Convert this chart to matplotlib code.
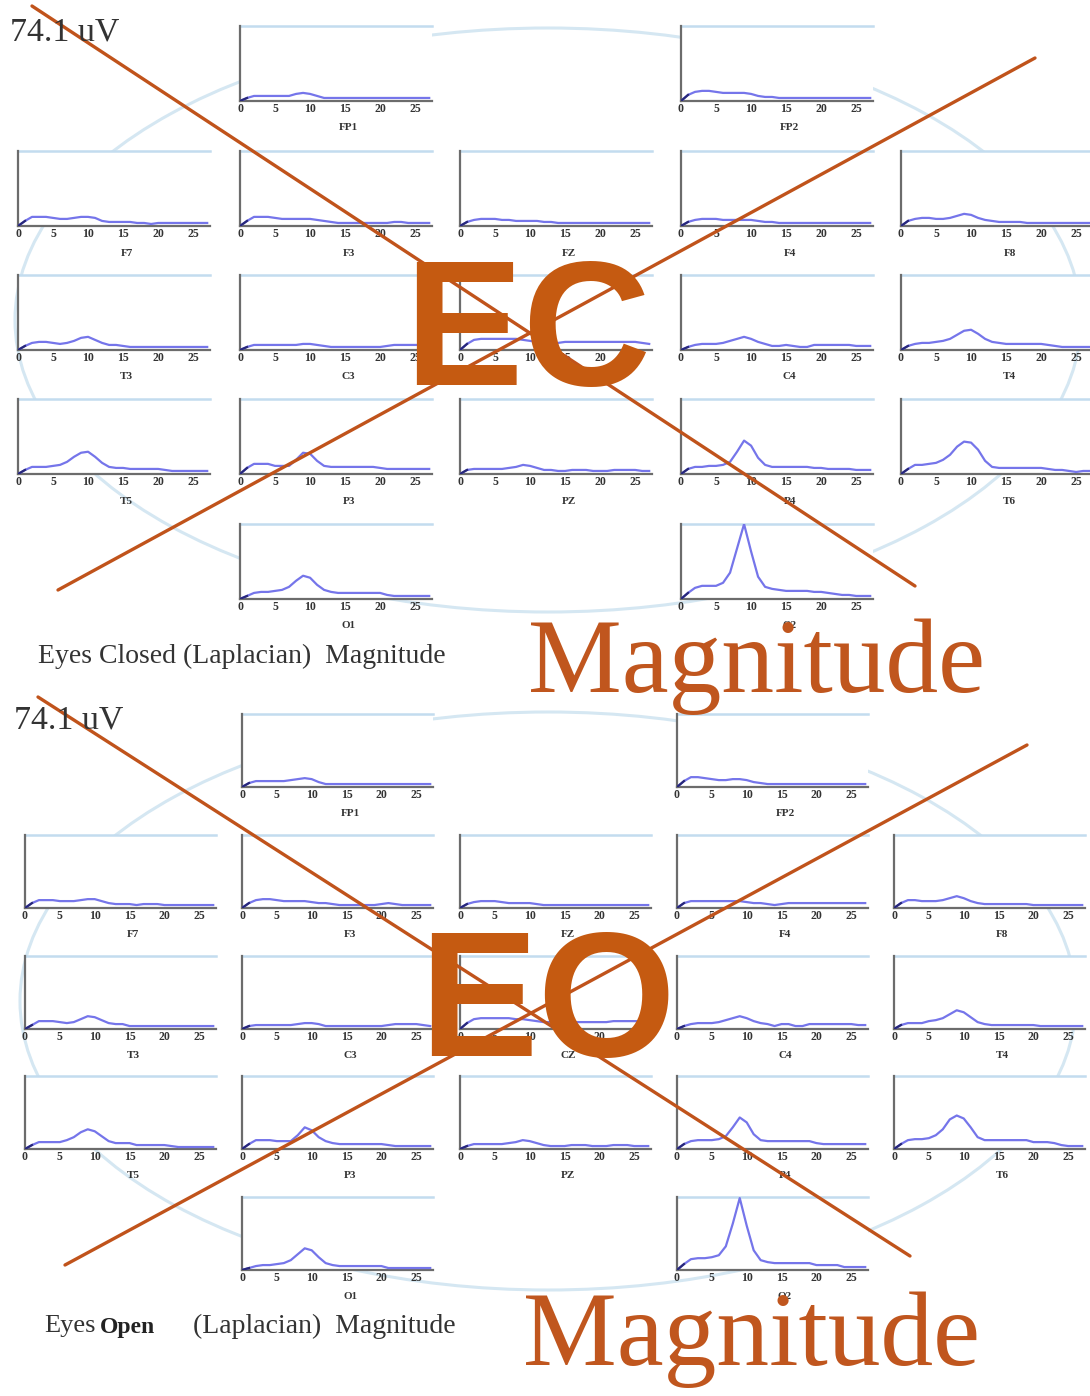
import numpy as np
import matplotlib
matplotlib.use("Agg")
import matplotlib.pyplot as plt
from matplotlib.patches import Ellipse
from matplotlib.transforms import blended_transform_factory

# ---------------------------------------------------------------- data
freqs = list(range(28))            # Hz
tick_values = [0, 5, 10, 15, 20, 25]
scale_uv = 74.1                    # full-scale magnitude (uV)

channels = ["FP1", "FP2", "F7", "F3", "FZ", "F4", "F8",
            "T3", "C3", "CZ", "C4", "T4",
            "T5", "P3", "PZ", "P4", "T6", "O1", "O2"]

# Eyes closed magnitude spectra (uV), one value per Hz
ec_fp1 = [0,3,5,5,5,5,5,5,7,8,7,5,3,3,3,3,3,3,3,3,3,3,3,3,3,3,3,3]
ec_fp2 = [0,6,9,10,10,9,8,8,8,8,7,5,4,4,3,3,3,3,3,3,3,3,3,3,3,3,3,3]
ec_f7 = [0,5,9,9,9,8,7,7,8,9,9,8,5,4,4,4,4,3,3,2,3,3,3,3,3,3,3,3]
ec_f3 = [0,5,9,9,9,8,7,7,7,7,7,6,5,4,3,3,3,3,3,3,3,3,4,4,3,3,3,3]
ec_fz = [0,4,6,7,7,7,6,6,5,5,5,5,4,4,3,3,3,3,3,3,3,3,3,3,3,3,3,3]
ec_f4 = [0,4,6,7,7,7,6,6,6,6,6,5,4,4,3,3,3,3,3,3,3,3,3,3,3,3,3,3]
ec_f8 = [0,5,7,8,8,7,7,8,10,12,11,8,6,5,4,4,4,4,3,3,3,3,3,3,3,3,3,3]
ec_t3 = [0,4,7,8,8,7,6,7,9,12,13,10,7,5,5,4,3,3,3,3,3,3,3,3,3,3,3,3]
ec_c3 = [0,3,5,5,5,5,5,5,5,6,6,5,4,3,3,3,3,3,3,3,3,4,5,5,5,5,5,5]
ec_cz = [0,6,10,11,11,11,11,11,11,10,9,8,7,7,7,8,8,8,8,8,8,8,8,8,8,8,7,6]
ec_c4 = [0,3,5,6,6,6,7,9,11,13,11,8,6,4,4,5,4,3,3,5,5,5,5,5,5,4,4,4]
ec_t4 = [0,4,6,7,7,8,9,11,15,19,20,16,11,8,7,6,6,6,6,6,6,5,4,3,3,3,3,3]
ec_t5 = [0,4,7,7,7,8,9,12,17,21,22,17,11,7,6,6,5,5,5,5,5,4,3,3,3,3,3,3]
ec_p3 = [0,6,10,10,10,8,8,8,14,21,20,13,8,7,7,7,7,7,7,7,6,5,5,5,5,5,5,5]
ec_pz = [0,4,5,5,5,5,5,6,7,9,8,6,4,4,3,3,4,4,4,3,3,3,4,4,4,4,3,3]
ec_p4 = [0,5,7,7,8,8,9,12,22,33,28,16,9,7,7,7,7,7,7,6,6,5,5,5,5,4,4,4]
ec_t6 = [0,5,9,9,10,11,14,19,27,32,31,24,13,7,6,6,6,6,6,6,6,5,4,4,3,2,3,3]
ec_o1 = [0,3,6,7,7,8,9,12,18,23,21,14,9,7,6,6,6,6,6,6,6,4,3,3,3,3,3,3]
ec_o2 = [0,6,11,13,13,13,16,26,50,74,47,22,12,10,9,8,8,8,8,7,7,6,5,4,4,3,3,3]

# Eyes open magnitude spectra (uV)
eo_fp1 = [0,4,6,6,6,6,6,7,8,9,8,5,3,3,3,3,3,3,3,3,3,3,3,3,3,3,3,3]
eo_fp2 = [0,6,10,10,9,8,7,7,8,8,7,5,4,3,3,3,3,3,3,3,3,3,3,3,3,3,3,3]
eo_f7 = [0,5,8,8,8,7,7,7,8,9,9,7,5,4,4,4,3,4,4,4,3,3,3,3,3,3,3,3]
eo_f3 = [0,5,8,9,9,8,7,7,7,7,6,5,5,4,3,3,3,3,3,3,4,5,4,3,3,3,3,3]
eo_fz = [0,4,6,7,7,7,6,5,5,5,5,4,3,3,3,3,3,3,3,3,3,3,3,3,3,3,3,3]
eo_f4 = [0,5,7,7,7,7,7,7,7,7,6,5,5,4,3,4,5,5,5,5,5,5,5,5,5,5,5,5]
eo_f8 = [0,5,8,8,7,7,7,8,10,12,10,7,5,4,4,4,4,4,4,4,3,3,3,3,3,3,3,3]
eo_t3 = [0,4,8,8,8,7,6,7,10,13,12,9,6,5,5,3,3,3,3,3,3,3,3,3,3,3,3,3]
eo_c3 = [0,3,4,4,4,4,4,4,5,6,6,5,3,3,3,3,3,3,3,3,3,4,5,5,5,5,4,3]
eo_cz = [0,6,10,11,11,11,11,11,10,10,9,8,7,7,7,7,7,7,7,7,7,7,8,8,8,8,8,6]
eo_c4 = [0,3,5,6,6,6,7,9,11,13,11,8,6,5,3,5,5,3,3,5,5,5,5,5,5,5,4,4]
eo_t4 = [0,4,6,6,6,8,9,11,15,19,17,12,7,5,4,4,4,4,4,4,4,3,3,3,3,3,3,3]
eo_t5 = [0,4,7,7,7,7,9,12,17,20,18,13,8,6,6,6,4,4,4,4,4,3,2,2,2,2,2,2]
eo_p3 = [0,5,9,9,9,8,8,8,14,22,19,12,8,6,5,5,5,5,5,5,5,4,3,3,3,3,3,3]
eo_pz = [0,3,5,5,5,5,5,6,7,9,8,6,4,3,3,3,4,4,4,3,3,3,4,4,4,3,3,3]
eo_p4 = [0,5,8,9,9,9,10,13,22,32,27,15,9,8,8,8,8,8,8,8,6,5,5,5,5,5,5,5]
eo_t6 = [0,5,9,10,10,11,14,20,30,34,31,22,12,9,9,9,9,9,9,9,7,7,7,6,4,3,3,3]
eo_o1 = [0,2,4,5,5,6,7,10,16,22,20,13,7,5,4,4,4,4,4,4,4,2,2,2,2,2,2,2]
eo_o2 = [0,6,11,12,12,13,15,24,47,73,45,20,10,8,7,7,7,7,7,7,5,5,5,5,3,3,3,3]

ec_data = [ec_fp1, ec_fp2, ec_f7, ec_f3, ec_fz, ec_f4, ec_f8, ec_t3, ec_c3,
           ec_cz, ec_c4, ec_t4, ec_t5, ec_p3, ec_pz, ec_p4, ec_t6, ec_o1, ec_o2]
eo_data = [eo_fp1, eo_fp2, eo_f7, eo_f3, eo_fz, eo_f4, eo_f8, eo_t3, eo_c3,
           eo_cz, eo_c4, eo_t4, eo_t5, eo_p3, eo_pz, eo_p4, eo_t6, eo_o1, eo_o2]

# ---------------------------------------------------------------- layout
W, H = 1090, 1396
# (row, column) of each electrode on the scalp map
grid = {"FP1": (0, 1), "FP2": (0, 3),
        "F7": (1, 0), "F3": (1, 1), "FZ": (1, 2), "F4": (1, 3), "F8": (1, 4),
        "T3": (2, 0), "C3": (2, 1), "CZ": (2, 2), "C4": (2, 3), "T4": (2, 4),
        "T5": (3, 0), "P3": (3, 1), "PZ": (3, 2), "P4": (3, 3), "T6": (3, 4),
        "O1": (4, 1), "O2": (4, 3)}

maps = [
    dict(data=ec_data, cols=[18, 240, 460, 681, 901], rows=[101, 226, 350, 474, 599],
         pw=192, ph=75, head=(548, 320, 1066, 584)),
    dict(data=eo_data, cols=[25, 242, 460, 677, 894], rows=[787, 908, 1029, 1149, 1270],
         pw=191, ph=73, head=(548, 1001, 1056, 578)),
]

ORANGE = "#c0531b"
CURVE = "#7575ea"
TOPLINE = "#c3dcef"
HEADLINE = "#d5e7f2"

fig = plt.figure(figsize=(W / 100, H / 100), dpi=100)
fig.patch.set_facecolor("white")

def px_box(x0, ybottom, w, h):
    return [x0 / W, 1 - ybottom / H, w / W, h / H]

# background layer: head outlines
bg = fig.add_axes([0, 0, 1, 1], zorder=0)
bg.set_xlim(0, W)
bg.set_ylim(H, 0)
bg.axis("off")
for m in maps:
    cx, cy, ew, eh = m["head"]
    bg.add_patch(Ellipse((cx, cy), ew, eh, fill=False, ec=HEADLINE, lw=2.2))

serif = ["Liberation Serif", "DejaVu Serif"]

for m in maps:
    for name, vals in zip(channels, m["data"]):
        r, c = grid[name]
        ax = fig.add_axes(px_box(m["cols"][c], m["rows"][r], m["pw"], m["ph"]), zorder=1)
        ax.set_facecolor("white")
        ax.plot(freqs, vals, color=CURVE, lw=1.6, solid_joinstyle="round", zorder=3)
        ax.plot(freqs[:2], vals[:2], color="#27277a", lw=1.6, zorder=4)
        ax.axhline(scale_uv, color=TOPLINE, lw=1.8, clip_on=False, zorder=2)
        ax.set_xlim(0, 27.4)
        ax.set_ylim(0, scale_uv)
        for s in ("top", "right"):
            ax.spines[s].set_visible(False)
        for s in ("left", "bottom"):
            ax.spines[s].set_color("#6c6c6c")
            ax.spines[s].set_linewidth(1.6)
        ax.set_xticks(tick_values)
        ax.set_xticklabels([str(t) for t in tick_values], fontfamily=serif,
                           fontsize=8.5, fontweight="bold", color="#333333")
        ax.set_yticks([])
        ax.tick_params(axis="x", length=0, pad=1.5)
        tr = blended_transform_factory(ax.transData, ax.transAxes)
        ax.text(15.5, -0.3, name, transform=tr, ha="center", va="top",
                fontfamily=serif, fontsize=8, fontweight="bold", color="#333333")

# foreground layer: annotations
fg = fig.add_axes([0, 0, 1, 1], zorder=3)
fg.set_xlim(0, W)
fg.set_ylim(H, 0)
fg.axis("off")
fg.patch.set_alpha(0)

fg.text(10, 32, "74.1 uV", fontfamily=serif, fontsize=24.5, color="#333333",
        ha="left", va="center")
fg.text(14, 720, "74.1 uV", fontfamily=serif, fontsize=24.5, color="#333333",
        ha="left", va="center")

fg.text(38, 656, "Eyes Closed (Laplacian)  Magnitude", fontfamily=serif,
        fontsize=20, color="#333333", ha="left", va="center")
fg.text(44, 1326, "Eyes", fontfamily=serif, fontsize=19, color="#333333",
        ha="left", va="center")
fg.text(100, 1328, "Open", fontfamily=serif, fontsize=17, fontweight="bold",
        color="#222222", ha="left", va="center")
fg.text(193, 1326, "(Laplacian)  Magnitude", fontfamily=serif, fontsize=20,
        color="#333333", ha="left", va="center")

# crossed-out markers
fg.plot([32, 915], [6, 586], color=ORANGE, lw=2.4, solid_capstyle="round")
fg.plot([58, 1035], [590, 58], color=ORANGE, lw=2.4, solid_capstyle="round")
fg.plot([38, 910], [697, 1256], color=ORANGE, lw=2.4, solid_capstyle="round")
fg.plot([65, 1027], [1265, 745], color=ORANGE, lw=2.4, solid_capstyle="round")

big = ["Liberation Sans", "DejaVu Sans"]
fg.text(528, 339, "EC", fontfamily=big, fontsize=128, fontweight="bold",
        color="#c55a11", ha="center", va="center")
fg.text(548, 1010, "EO", fontfamily=big, fontsize=128, fontweight="bold",
        color="#c55a11", ha="center", va="center")

fg.text(528, 692, "Magnitude", fontfamily=serif, fontsize=76, color="#c0561e",
        ha="left", va="baseline")
fg.text(523, 1365, "Magnitude", fontfamily=serif, fontsize=76, color="#c0561e",
        ha="left", va="baseline")

fig.savefig("out.png", dpi=100, facecolor="white")
